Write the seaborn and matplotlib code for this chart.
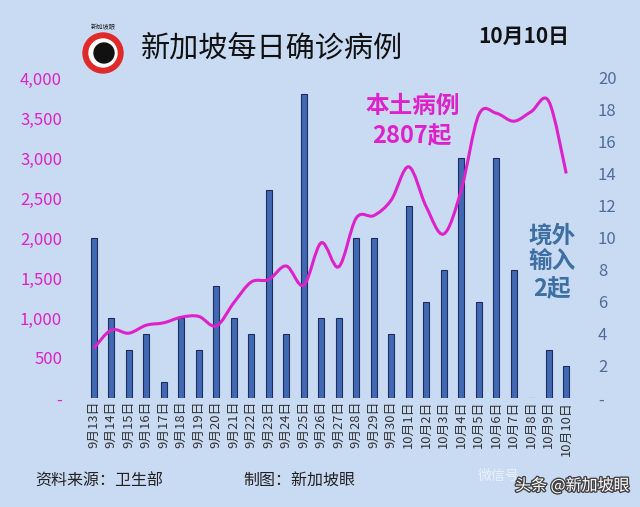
import numpy as np
import pandas as pd
import matplotlib
matplotlib.use("Agg")
import matplotlib.pyplot as plt
import matplotlib.patheffects as pe
from matplotlib.path import Path
from matplotlib.patches import PathPatch, Ellipse
import seaborn as sns

# data
dates = ["9月13日", "9月14日", "9月15日", "9月16日", "9月17日", "9月18日", "9月19日",
         "9月20日", "9月21日", "9月22日", "9月23日", "9月24日", "9月25日", "9月26日",
         "9月27日", "9月28日", "9月29日", "9月30日", "10月1日", "10月2日", "10月3日",
         "10月4日", "10月5日", "10月6日", "10月7日", "10月8日", "10月9日", "10月10日"]
imported = [10, 5, 3, 4, 1, 5, 3, 7, 5, 4, 13, 4, 19, 5, 5, 10, 10, 4, 12, 6, 8,
            15, 6, 15, 8, 0, 3, 2]
local = [620, 850, 810, 910, 940, 1010, 1020, 900, 1190, 1450, 1480, 1650, 1410, 1940,
         1640, 2250, 2280, 2475, 2890, 2390, 2050, 2600, 3540, 3560, 3460, 3580, 3710, 2807]

left_ticks = [0, 500, 1000, 1500, 2000, 2500, 3000, 3500, 4000]
left_labels = ["-", "500", "1,000", "1,500", "2,000", "2,500", "3,000", "3,500", "4,000"]
right_ticks = [0, 2, 4, 6, 8, 10, 12, 14, 16, 18, 20]
right_labels = ["-", "2", "4", "6", "8", "10", "12", "14", "16", "18", "20"]

sns.set_theme(style="white")
plt.rcParams['font.family'] = ['Noto Sans CJK SC', 'DejaVu Sans']

bg = "#c9daf3"
magenta = "#dd22cc"
steel = "#3d6fa3"

fig = plt.figure(figsize=(6.4, 5.07), dpi=100, facecolor=bg)
ax = fig.add_axes([85 / 640, 1 - 398 / 507, 490 / 640, 320 / 507])
ax.set_facecolor("none")

df = pd.DataFrame({"date": dates, "imported": imported, "local": local})

# bars: imported cases (right axis)
sns.barplot(data=df, x="date", y="imported", ax=ax, color="#4169b3", width=0.36,
            edgecolor="#1c2f5e", linewidth=0.8, saturation=1)
ax.set_xlim(-0.5, len(dates) - 0.5)
ax.set_ylim(0, 20)
ax.set_xticks(range(len(dates)))
ax.set_xticklabels(dates, rotation=90, fontsize=9.3, color="#333333")
ax.tick_params(axis="x", length=0, pad=2)
ax.set_xlabel("")
ax.set_ylabel("")

# line: local cases (left axis), smoothed like an Excel line
ax2 = ax.twinx()
ax2.set_facecolor("none")
ax.yaxis.tick_right()
ax.set_yticks(right_ticks)
ax.set_yticklabels(right_labels, color="#4f6d96", fontsize=12)
ax.tick_params(axis="y", length=0, pad=16.5)
ax2.yaxis.tick_left()
ax2.set_ylim(0, 4000)
ax2.set_yticks(left_ticks)
ax2.set_yticklabels(left_labels, color=magenta, fontsize=12)
ax2.tick_params(axis="y", length=0, pad=16.5)
xs = np.arange(len(local), dtype=float)
ys = np.array(local, dtype=float)
verts = [(xs[0], ys[0])]
codes = [Path.MOVETO]
n = len(xs)
for i in range(n - 1):
    p0 = np.array([xs[max(i - 1, 0)], ys[max(i - 1, 0)]])
    p1 = np.array([xs[i], ys[i]])
    p2 = np.array([xs[i + 1], ys[i + 1]])
    p3 = np.array([xs[min(i + 2, n - 1)], ys[min(i + 2, n - 1)]])
    c1 = p1 + (p2 - p0) / 6
    c2 = p2 - (p3 - p1) / 6
    verts += [tuple(c1), tuple(c2), tuple(p2)]
    codes += [Path.CURVE4] * 3
ax2.add_patch(PathPatch(Path(verts, codes), facecolor="none", edgecolor=magenta, lw=2.2))

for a in (ax, ax2):
    for s in a.spines.values():
        s.set_visible(False)
    a.grid(False)

# annotations
ax2.text(18.2, 3650, "本土病例", color=magenta, fontsize=17, fontweight="bold", ha="center", va="center")
ax2.text(18.2, 3270, "2807起", color=magenta, fontsize=17, fontweight="bold", ha="center", va="center")
ax2.text(26.2, 1700, "境外\n输入\n2起", color=steel, fontsize=17, fontweight="bold",
         ha="center", va="center", linespacing=1.15)

# header
fig.text(272 / 640, 1 - 48 / 507, "新加坡每日确诊病例", fontsize=21, color="#111111",
         ha="center", va="center", fontweight="medium")
fig.text(524 / 640, 1 - 36 / 507, "10月10日", fontsize=15, fontweight="bold", color="#111111",
         ha="center", va="center")
fig.patches.append(Ellipse((103 / 640, 1 - 53 / 507), 40 / 640, 40 / 507, color="#e02a2a",
                           transform=fig.transFigure, figure=fig))
fig.patches.append(Ellipse((103 / 640, 1 - 53 / 507), 28 / 640, 28 / 507, color="white",
                           transform=fig.transFigure, figure=fig))
fig.patches.append(Ellipse((104 / 640, 1 - 53 / 507), 20 / 640, 20 / 507, color="#111111",
                           transform=fig.transFigure, figure=fig))
fig.text(103 / 640, 1 - 27 / 507, "新加坡眼", fontsize=4.5, color="#222222", ha="center", va="center")

# footer
fig.text(35 / 640, 1 - 481 / 507, "资料来源：卫生部", fontsize=11.5, color="#222222", va="center")
fig.text(243 / 640, 1 - 481 / 507, "制图：新加坡眼", fontsize=11.5, color="#222222", va="center")
fig.text(478 / 640, 1 - 476 / 507, "微信号", fontsize=10, color="white", alpha=0.6, va="center")
fig.text(515 / 640, 1 - 486 / 507, "头条 @新加坡眼", fontsize=11.5, color="white", va="center",
         path_effects=[pe.withStroke(linewidth=2, foreground="#444444")])

fig.savefig("out.png", dpi=100, facecolor=bg)
